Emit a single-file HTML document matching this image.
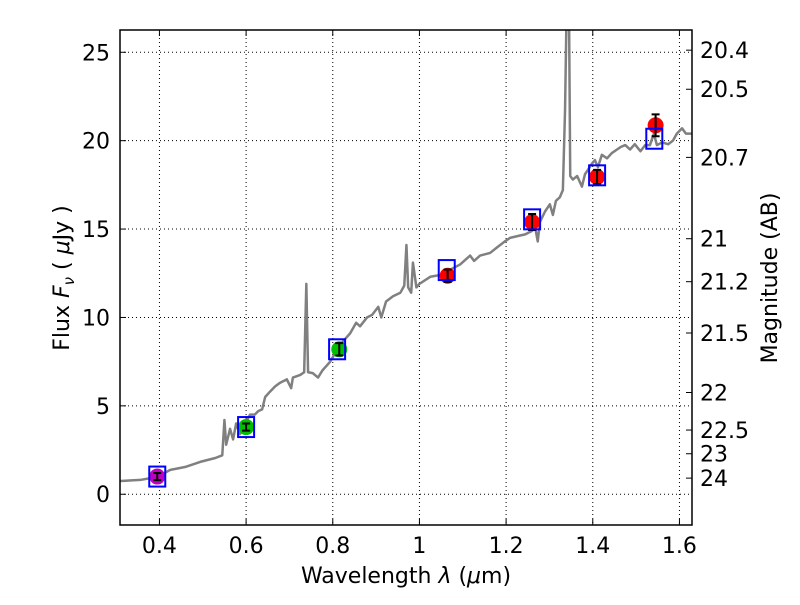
<!DOCTYPE html>
<html><head><meta charset="utf-8"><style>
body{margin:0;background:#fff}
svg text{font-family:"DejaVu Sans","Liberation Sans",sans-serif;fill:#000}
</style></head><body>
<svg id="chart" width="800" height="600" viewBox="0 0 800 600">
<defs><clipPath id="clip"><rect x="120" y="30" width="572" height="495"/></clipPath></defs>
<rect x="0" y="0" width="800" height="600" fill="#fff"/>
<g id="grid"></g>
<g id="spec" clip-path="url(#clip)"></g>
<g id="marks" clip-path="url(#clip)"></g>
<g id="axes"></g>
<text x="406" y="583" font-size="22" text-anchor="middle">Wavelength  <tspan font-style="italic">λ</tspan> (<tspan font-style="italic">μ</tspan>m)</text>
<text transform="translate(69,278) rotate(-90)" font-size="22" text-anchor="middle">Flux  <tspan font-style="italic">F</tspan><tspan font-style="italic" font-size="15" dy="5">ν</tspan><tspan dy="-5">  ( </tspan><tspan font-style="italic">μ</tspan>Jy )</text>
<text transform="translate(777,278) rotate(-90)" font-size="22" text-anchor="middle">Magnitude (AB)</text>
</svg>
<script>
const specLam=[0.31,0.356,0.395,0.425,0.459,0.494,0.529,0.545,0.55,0.554,0.563,0.57,0.577,0.586,0.598,0.609,0.62,0.628,0.637,0.644,0.655,0.667,0.678,0.694,0.704,0.708,0.725,0.734,0.739,0.743,0.754,0.766,0.776,0.794,0.806,0.822,0.84,0.854,0.863,0.879,0.891,0.905,0.912,0.923,0.939,0.956,0.965,0.97,0.974,0.981,0.985,0.993,1.0,1.025,1.048,1.071,1.094,1.117,1.126,1.14,1.163,1.181,1.197,1.209,1.226,1.244,1.26,1.267,1.273,1.278,1.29,1.301,1.308,1.315,1.324,1.331,1.336,1.34,1.345,1.348,1.354,1.364,1.375,1.382,1.389,1.398,1.405,1.412,1.421,1.433,1.444,1.456,1.465,1.475,1.486,1.497,1.51,1.521,1.532,1.541,1.548,1.56,1.574,1.585,1.594,1.606,1.615,1.628];
const specFlux=[0.75,0.81,0.98,1.38,1.54,1.83,2.05,2.2,4.2,2.8,3.7,3.1,4.0,3.4,4.0,4.5,4.5,4.7,4.8,5.5,5.8,6.1,6.3,6.5,6.0,6.6,6.75,6.9,11.9,6.9,6.85,6.6,7.0,7.5,8.0,8.6,9.1,9.7,9.5,10.0,10.15,10.6,10.0,10.9,11.2,11.4,11.8,14.1,11.7,11.4,13.1,11.7,11.9,12.3,12.4,12.7,13.0,13.5,13.2,13.5,13.65,14.0,14.3,14.5,14.6,14.7,14.9,15.1,14.3,15.4,16.0,16.4,15.8,16.6,16.8,17.2,21.7,28,28,18.0,17.8,18.0,17.4,18.1,18.35,18.7,18.9,18.5,19.2,19.0,19.3,19.5,19.65,19.75,19.5,19.8,19.4,19.75,19.75,20.4,19.75,19.9,19.8,20.0,20.4,20.7,20.4,20.4];
const obsLam=[0.395,0.60,0.815,1.065,1.26,1.41,1.545];
const obsFlux=[1.0,3.8,8.2,12.36,15.4,17.95,20.87];
const obsErr=[0.2,0.2,0.35,0.35,0.45,0.4,0.62];
const obsColor=["#bf00bf","#00bf00","#00bf00","#ff0000","#ff0000","#ff0000","#ff0000"];
const modelLam=[0.395,0.60,0.81,1.063,1.26,1.41,1.542];
const modelFlux=[1.0,3.8,8.2,12.68,15.55,18.04,20.11];
const xTicks=[0.4,0.6,0.8,1.0,1.2,1.4,1.6];
const xTickLabels=["0.4","0.6","0.8","1","1.2","1.4","1.6"];
const yTicks=[0,5,10,15,20,25];
const magTicks=[20.4,20.5,20.7,21,21.2,21.5,22,22.5,23,24];
const magLabels=["20.4","20.5","20.7","21","21.2","21.5","22","22.5","23","24"];
const X0=120,X1=692,Y0=525,Y1=30,xmin=0.309,xmax=1.629,ymin=-1.74,ymax=26.26;
const sx=v=>X0+(v-xmin)/(xmax-xmin)*(X1-X0);
const sy=v=>Y0-(v-ymin)/(ymax-ymin)*(Y0-Y1);
const NS="http://www.w3.org/2000/svg";
function mk(tag,attrs,parent){const e=document.createElementNS(NS,tag);for(const k in attrs)e.setAttribute(k,attrs[k]);parent.appendChild(e);return e;}
const grid=document.getElementById('grid'),axes=document.getElementById('axes'),spec=document.getElementById('spec'),marks=document.getElementById('marks');
xTicks.forEach((t,i)=>{const x=sx(t);
 const g=mk('line',{x1:x,x2:x,y1:Y1,y2:Y0,stroke:'#000','stroke-width':1,'stroke-dasharray':'1,3'},grid);
 
 
 mk('line',{x1:x,x2:x,y1:Y0,y2:Y0-6,stroke:'#000'},axes);
 mk('line',{x1:x,x2:x,y1:Y1,y2:Y1+6,stroke:'#000'},axes);
 const tx=mk('text',{x:x,y:Y0+28,'font-size':22,'text-anchor':'middle'},axes);tx.textContent=xTickLabels[i];
 
 
});
yTicks.forEach(t=>{const y=sy(t);
 const g=mk('line',{x1:X0,x2:X1,y1:y,y2:y,stroke:'#000','stroke-width':1,'stroke-dasharray':'1,3'},grid);
 
 
 mk('line',{x1:X0,x2:X0+6,y1:y,y2:y,stroke:'#000'},axes);
 const tx=mk('text',{x:X0-10,y:y+8,'font-size':22,'text-anchor':'end'},axes);tx.textContent=String(t);
 
 
});
magTicks.forEach((m,i)=>{const f=Math.pow(10,(23.9-m)/2.5);const y=sy(f);
 mk('line',{x1:X1,x2:X1-6,y1:y,y2:y,stroke:'#000'},axes);
 const tx=mk('text',{x:X1+8,y:y+8,'font-size':22},axes);tx.textContent=magLabels[i];
 
 
});
mk('rect',{x:X0,y:Y1,width:X1-X0,height:Y0-Y1,fill:'none',stroke:'#000','stroke-width':1.5},axes);
const pl=mk('polyline',{points:specLam.map((l,i)=>sx(l)+','+sy(specFlux[i])).join(' '),fill:'none',stroke:'#808080','stroke-width':2.5,'stroke-linejoin':'round'},spec);


obsLam.forEach((l,i)=>{const x=sx(l),y=sy(obsFlux[i]);
 const c=mk('circle',{cx:x,cy:y,r:8,fill:obsColor[i]},marks);
 
 
 const ya=sy(obsFlux[i]+obsErr[i]),yb=sy(obsFlux[i]-obsErr[i]);
 const e=mk('path',{d:`M${x},${ya}V${yb}M${x-4},${ya}H${x+4}M${x-4},${yb}H${x+4}`,stroke:'#000','stroke-width':2,fill:'none'},marks);
 
 
});
modelLam.forEach((l,i)=>{const x=sx(l),y=sy(modelFlux[i]);
 const r=mk('rect',{x:x-8,y:y-10,width:16,height:20,fill:'none',stroke:'#0000ff','stroke-width':2},marks);
 
 
});
</script>
</body></html>
